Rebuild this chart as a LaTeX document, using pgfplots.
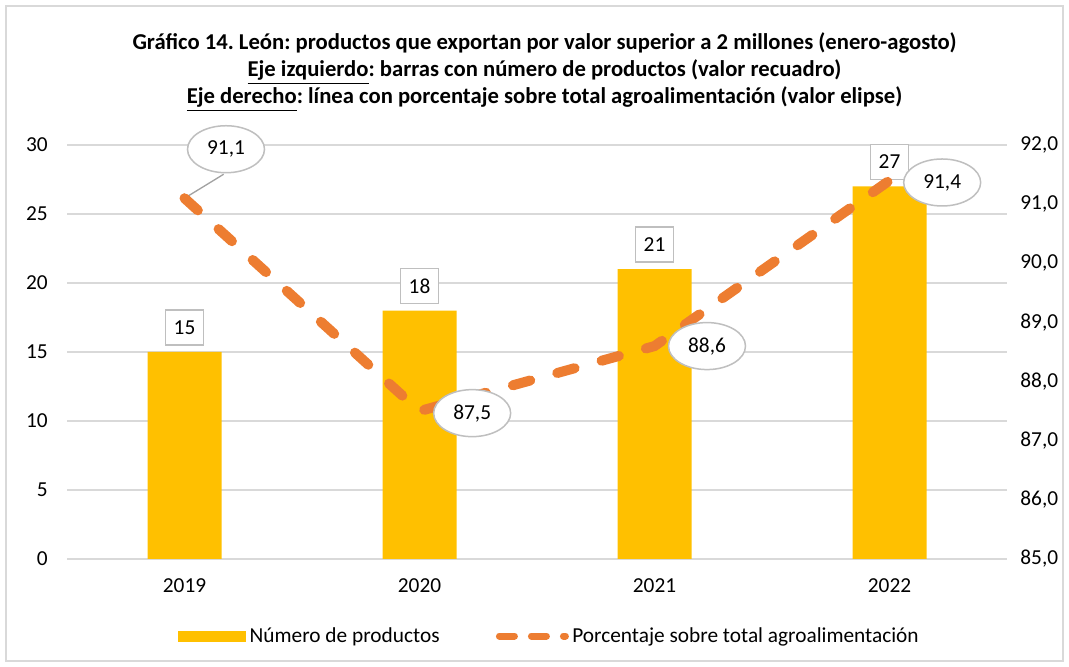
\documentclass[border=0pt]{standalone}
\usepackage{fontspec}
\setmainfont{Carlito}
\usepackage{pgfplots}
\usepackage{pgfplotstable}
\pgfplotsset{compat=1.18}
\usetikzlibrary{shapes.geometric}
\frenchspacing

\definecolor{barcol}{HTML}{FFC000}
\definecolor{linecol}{HTML}{ED7D31}
\definecolor{gridcol}{HTML}{D9D9D9}
\definecolor{boxcol}{HTML}{BFBFBF}

% number of products (left axis)
\pgfplotstableread{
x val
0 15
1 18
2 21
3 27
}\productos

% share of agrifood total (right axis); dx/dy = label offset in pt
\pgfplotstableread{
x val dx dy
0 91.1 24.9 29.4
1 87.5 31.6 -1.2
2 88.6 31.5 0
3 91.4 31.6 -1.2
}\porcentaje

\begin{document}
\begin{tikzpicture}
\useasboundingbox (0,0) rectangle (641.4pt,400.2pt);
\draw[gridcol, line width=0.8pt] (3.6pt,3.6pt) rectangle (637.8pt,396.6pt);

\node[font=\fontsize{13.6}{16.2}\selectfont\bfseries, align=center] at (326.7pt,357pt)
  {Gráfico 14. León: productos que exportan por valor superior a 2 millones (enero-agosto)\\
   \underline{Eje izquierdo}: barras con número de productos (valor recuadro)\\
   \underline{Eje derecho}: línea con porcentaje sobre total agroalimentación (valor elipse)};

\begin{axis}[
  at={(40.2pt,64.8pt)}, anchor=south west,
  scale only axis, width=564pt, height=248.4pt,
  xmin=-0.5, xmax=3.5, ymin=0, ymax=30,
  xtick={0,1,2,3}, xticklabels={2019,2020,2021,2022},
  ytick={0,5,...,30},
  ymajorgrids, grid style={gridcol, line width=0.8pt},
  axis line style={draw=none}, major tick length=0pt,
  tick label style={font=\fontsize{12.8}{14}\selectfont},
  /pgf/number format/assume math mode=true,
  yticklabel style={xshift=-8pt},
  xticklabel style={yshift=-8pt},
  legend style={at={(0.514,-0.186)}, anchor=center, draw=none,
    legend columns=2, font=\fontsize{12.8}{14}\selectfont,
    /tikz/every even column/.append style={column sep=31.8pt},
    /tikz/every odd column/.append style={column sep=0pt}},
  legend cell align=left,
]
\addplot[ybar, bar width=44.4pt, fill=barcol, draw=none,
  nodes near coords,
  every node near coord/.append style={draw=boxcol, fill=white, line width=0.9pt,
    minimum width=22.8pt, minimum height=21pt, inner sep=0pt, anchor=center,
    yshift=14.7pt, font=\fontsize{12.8}{14}\selectfont, text=black},
  legend image code/.code={\fill[barcol] (0pt,-3.3pt) rectangle (40.8pt,3.3pt);}
] table[x=x, y=val] {\productos};
\addlegendentry{Número de productos}
\addlegendimage{legend image code/.code={\draw[linecol, line width=4.2pt, line cap=round,
  dash pattern=on 9pt off 10.2pt] (2.1pt,0pt) -- (41.7pt,0pt);}}
\addlegendentry{Porcentaje sobre total agroalimentación}
\end{axis}

\begin{axis}[
  at={(40.2pt,64.8pt)}, anchor=south west,
  scale only axis, width=564pt, height=248.4pt,
  xmin=-0.5, xmax=3.5, ymin=85, ymax=92,
  ytick={85,86,...,92},
  axis y line*=right, hide x axis,
  axis line style={draw=none}, major tick length=0pt,
  tick label style={font=\fontsize{12.8}{14}\selectfont},
  /pgf/number format/.cd, assume math mode=true, use comma, fixed, fixed zerofill, precision=1,
  /pgfplots/.cd,
  yticklabel style={xshift=4.5pt},
  clip=false,
]
\draw[boxcol!85!black, line width=0.8pt] (axis cs:0,91.1) -- ++(23.5pt,14.4pt);
\addplot[linecol, line width=6pt, line cap=round, dash pattern=on 10.8pt off 16.8pt,
  nodes near coords,
  visualization depends on={\thisrow{dx} \as \dx},
  visualization depends on={\thisrow{dy} \as \dy},
  every node near coord/.append style={shape=ellipse, solid, draw=boxcol, fill=white,
    line width=0.9pt, minimum width=46.2pt, minimum height=28.2pt, inner sep=0pt,
    anchor=center, xshift=\dx pt, yshift=\dy pt,
    font=\fontsize{12.8}{14}\selectfont, text=black}
] table[x=x, y=val] {\porcentaje};
\end{axis}
\end{tikzpicture}
\end{document}
